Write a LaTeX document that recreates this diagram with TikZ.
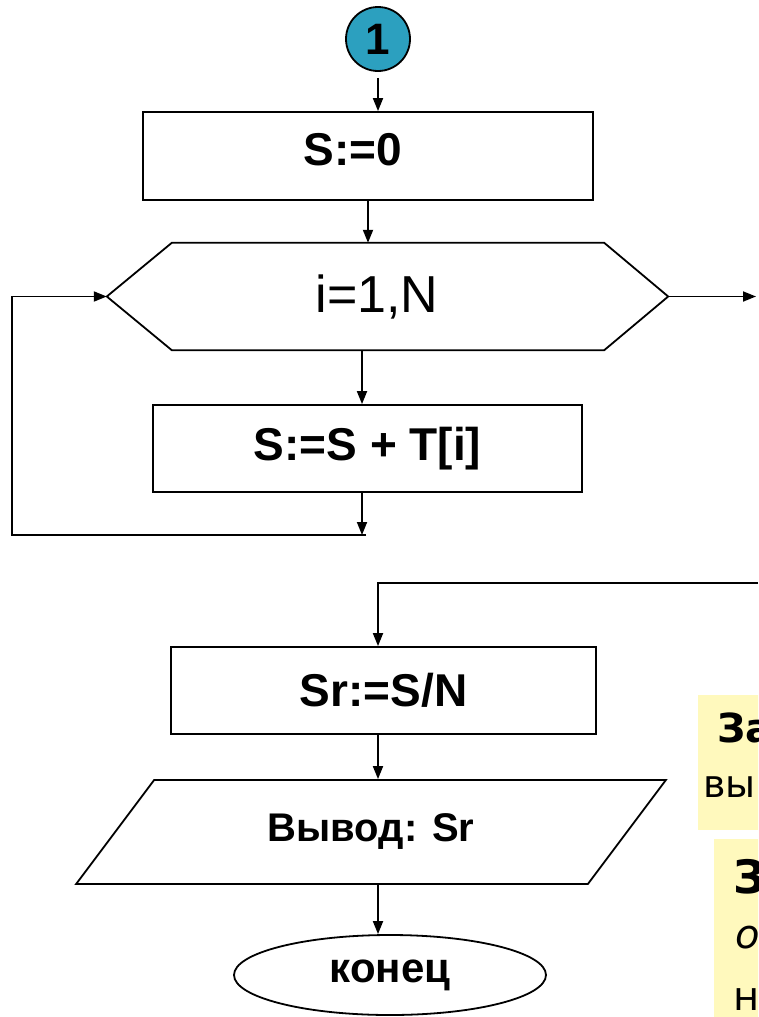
\documentclass[tikz,border=0pt]{standalone}
\usepackage{fontspec}
\setmainfont{Liberation Sans}
\newfontfamily\notefont{DejaVu Sans}
\usetikzlibrary{shapes.geometric,arrows.meta}
\definecolor{numfill}{RGB}{44,160,191}
\definecolor{notefill}{RGB}{255,249,189}
\tikzset{
  blk/.style={draw, line width=1.8pt, rectangle, inner sep=0pt, font=\bfseries\fontsize{46}{50}\selectfont},
  arr/.style={line width=1.8pt, -{Triangle[length=13pt,width=10pt]}},
  notetxt/.style={anchor=base west, inner sep=0pt, font=\notefont\fontsize{30}{34}\selectfont},
}
\begin{document}
\begin{tikzpicture}[x=1pt,y=-1pt]
  \useasboundingbox (0,0) rectangle (758,1017);
  \clip (0,0) rectangle (758,1017);

  %номер узла и начальное значение
  \node[circle, draw, line width=1.8pt, fill=numfill, minimum size=64pt, inner sep=0pt,
    font=\bfseries\fontsize{44}{48}\selectfont] (num) at (378,39) {1};
  \node[blk, minimum width=450pt, minimum height=88pt,
    label={[font=\bfseries\fontsize{46}{50}\selectfont, xshift=-15pt, yshift=6pt]center:S:=0}] (init) at (368,156) {};

  %заголовок цикла (шестиугольник) и тело
  \node[rectangle, minimum width=432pt, minimum height=107pt, inner sep=0pt] (cond) at (388,296.5) {};
  \coordinate (cond-l) at ([xshift=-65pt]cond.west);
  \coordinate (cond-r) at ([xshift=64pt]cond.east);
  \draw[line width=1.8pt] (cond.north west) -- (cond.north east) -- (cond-r)
    -- (cond.south east) -- (cond.south west) -- (cond-l) -- cycle;
  \node[font=\fontsize{52}{56}\selectfont] (condtxt) at ([xshift=-11pt]cond.center) {i=1,N};
  \node[blk, minimum width=429pt, minimum height=87pt] (body) at (367.5,448.5) {S:=S + T[i]};

  \coordinate (join) at (362,535);
  \coordinate (lft) at (12,535);
  \coordinate (exit) at (756,296.5);
  \coordinate (back) at (758,583);
  \coordinate (turn) at (378,583);

  %после цикла
  \node[blk, minimum width=425pt, minimum height=87pt] (avg) at (383.5,690.5) {Sr:=S/N};
  \node[trapezium, draw, line width=1.8pt, trapezium left angle=44, trapezium right angle=136,
    trapezium stretches=true, minimum width=590pt, minimum height=104pt, inner sep=0pt,
    font=\bfseries\fontsize{40}{44}\selectfont] (print) at (371,832) {Вывод: Sr};
  \node[ellipse, draw, line width=1.8pt, minimum width=312pt, minimum height=80pt, inner sep=0pt,
    font=\bfseries\fontsize{42}{46}\selectfont] (stop) at (390,975) {конец};

  %стрелки
  \draw[arr, shorten <=6pt] (num.south) -- (num.south |- init.north);
  \draw[arr] (init.south) -- (init.south |- cond.north);
  \draw[arr] (cond.south -| join) -- (join |- body.north);
  \draw[arr] (body.south -| join) -- (join);
  \draw[arr] ([xshift=4pt]join) -- (lft) |- (cond-l);
  \draw[arr] (cond-r) -- (exit);
  \draw[arr] (back) -- (turn) -- (turn |- avg.north);
  \draw[arr] (avg.south -| turn) -- (turn |- print.north);
  \draw[arr] (print.south -| turn) -- (turn |- stop.north);

  %желтые заметки справа
  \node[fill=notefill, anchor=north west, minimum width=80pt, minimum height=135pt, inner sep=0pt] (note1) at (698,695) {};
  \node[fill=notefill, anchor=north west, minimum width=60pt, minimum height=190pt, inner sep=0pt] (note2) at (714,839) {};
  \node[notetxt, font=\notefont\bfseries\fontsize{40}{44}\selectfont] (n1a) at (717,742) {За};
  \node[notetxt, font=\notefont\fontsize{38}{42}\selectfont] (n1b) at (703,797) {вы};
  \node[notetxt, font=\notefont\bfseries\fontsize{46}{50}\selectfont] (n2a) at (733,893) {З};
  \node[notetxt, font=\notefont\itshape\fontsize{40}{44}\selectfont] (n2b) at (735,948) {о};
  \node[notetxt, font=\notefont\fontsize{40}{44}\selectfont] (n2c) at (733,1010) {н};
\end{tikzpicture}
\end{document}
